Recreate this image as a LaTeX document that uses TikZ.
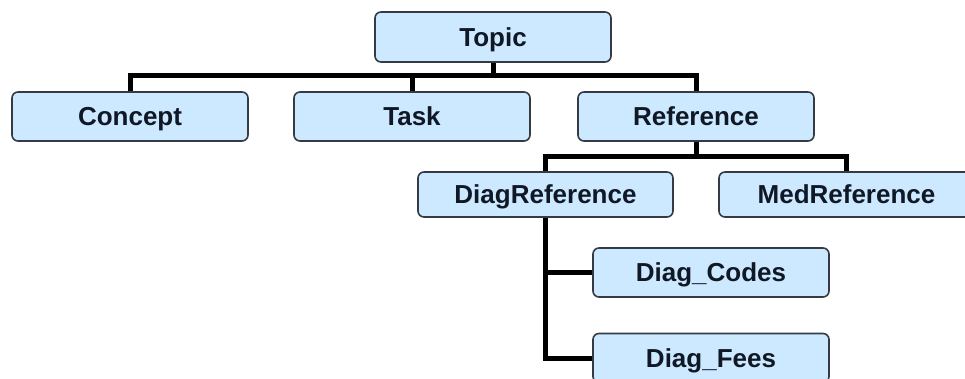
\documentclass[tikz,border=0pt]{standalone}
\usepackage{fontspec}
\setmainfont{Liberation Sans}
\usetikzlibrary{backgrounds}
\definecolor{boxfill}{HTML}{CCE9FF}
\definecolor{boxline}{HTML}{353B44}
\definecolor{boxtext}{HTML}{101826}
\begin{document}
\begin{tikzpicture}[x=1pt,y=-1pt,
  box/.style={draw=boxline, line width=1.6pt, fill=boxfill, rounded corners=6pt,
    minimum width=236pt, minimum height=49pt, inner sep=0pt,
    text height=18.5pt, text depth=0pt,
    font=\fontsize{26}{31}\selectfont\bfseries, text=boxtext},
  widebox/.style={minimum width=255pt, minimum height=45pt},
  conn/.style={line width=5pt, draw=black}]
\useasboundingbox (0,0) rectangle (965,379);
\clip (0,0) rectangle (965,379);
\node[box, minimum height=50pt] (topic) at (493,37) {Topic};
\node[box] (concept) at (130,116.5) {Concept};
\node[box] (task) at (412,116.5) {Task};
\node[box] (reference) at (696,116.5) {Reference};
\node[box, widebox] (diagref) at (545.5,194.5) {DiagReference};
\node[box, widebox] (medref) at (846.5,194.5) {MedReference};
\node[box] (diagcodes) at (711,272.5) {Diag\_Codes};
\node[box] (diagfees) at (711,358) {Diag\_Fees};
\coordinate (bar1) at (0,76);
\coordinate (bar2) at (0,157);
\begin{scope}[on background layer]
\draw[conn] (topic.south) -- (topic.south |- bar1);
\draw[conn] (concept.north) -- (concept.north |- bar1) -- (reference.north |- bar1) -- (reference.north);
\draw[conn] (task.north) -- (task.north |- bar1);
\draw[conn] (reference.south) -- (reference.south |- bar2);
\draw[conn] (diagref.north) -- (diagref.north |- bar2) -- (medref.north |- bar2) -- (medref.north);
\draw[conn] (diagref.south) |- (diagfees.west);
\draw[conn] (diagref.south |- diagcodes.west) -- (diagcodes.west);
\end{scope}
\end{tikzpicture}
\end{document}
